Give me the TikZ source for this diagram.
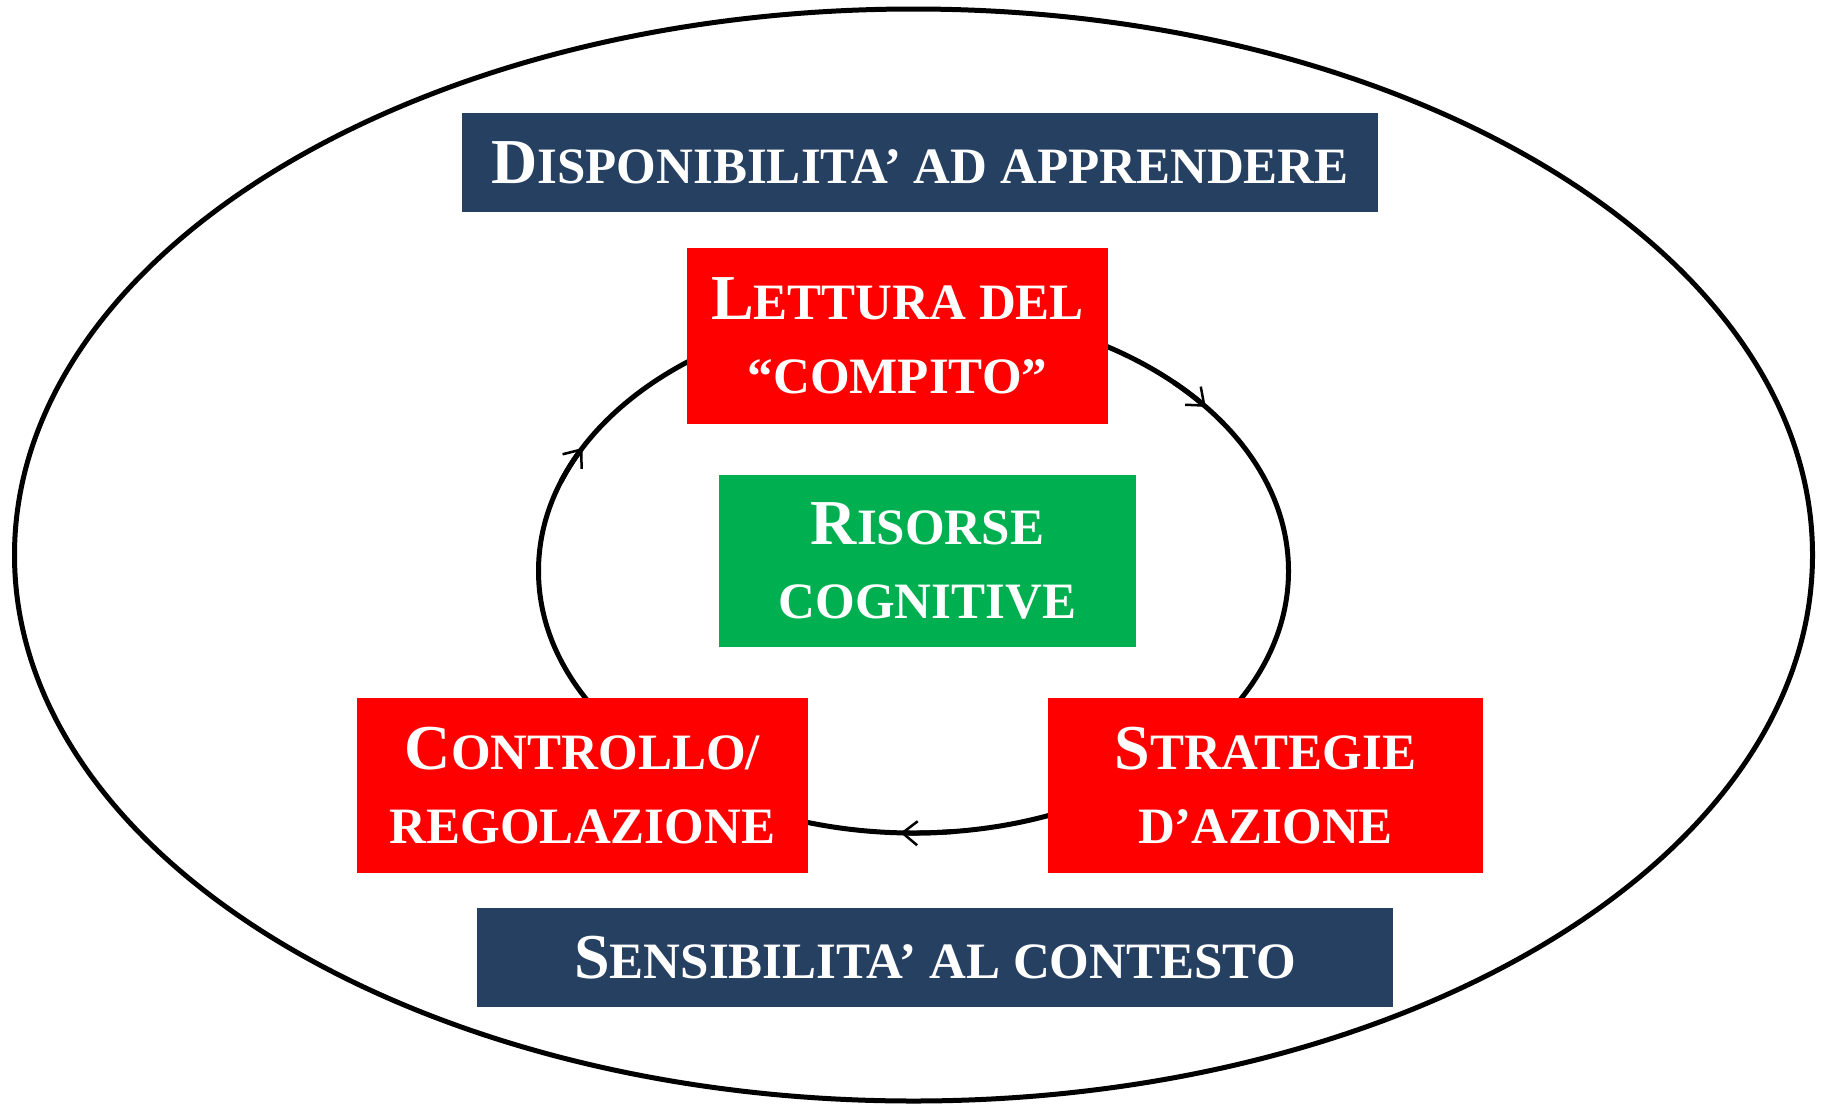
\documentclass[tikz,border=0pt]{standalone}
\usepackage{fontspec}
\setmainfont{Liberation Serif}
\usetikzlibrary{arrows.meta}
\definecolor{navy}{RGB}{38,64,97}
\definecolor{boxred}{RGB}{255,0,0}
\definecolor{boxgreen}{RGB}{0,176,80}
\newcommand\capA[1]{{\fontsize{64}{74}\selectfont #1}}
\begin{document}
\begin{tikzpicture}[x=1pt,y=-1pt,
  boxbase/.style={inner sep=0pt, text=white, align=center,
    font=\bfseries\fontsize{51}{74}\selectfont},
  navybox/.style={boxbase, fill=navy, minimum width=916pt, minimum height=99pt},
  redbox/.style={boxbase, fill=boxred},
  greenbox/.style={boxbase, fill=boxgreen},
  ring/.style={draw=black, line width=5pt},
  cyc/.style={draw=black, line width=5pt},
  cyctip/.style={cyc, -{Straight Barb[length=15pt,width=24pt,line width=2.5pt]}}]
\useasboundingbox (0,0) rectangle (1825,1104);
\fill[white] (0,0) rectangle (1825,1104);
\coordinate (oc) at (913.5,555);
\coordinate (ic) at (913.5,571);
\draw[ring] (oc) ellipse [x radius=899, y radius=546];
\draw[cyc] (ic) ellipse [x radius=375, y radius=262];
\draw[cyctip] (ic) ++(-46:375 and 262) arc[start angle=-46, end angle=-38.8, x radius=375, y radius=262];
\draw[cyctip] (ic) ++(-160:375 and 262) arc[start angle=-160, end angle=-152, x radius=375, y radius=262];
\draw[cyctip] (ic) ++(84:375 and 262) arc[start angle=84, end angle=92, x radius=375, y radius=262];

\node[navybox] (disp) at (920,162.5) {\capA{D}ISPONIBILITA’ AD APPRENDERE};
\node[redbox, minimum width=421pt, minimum height=176pt] (lett) at (897.5,336) {\capA{L}ETTURA DEL\\“COMPITO”};
\node[greenbox, minimum width=417pt, minimum height=172pt] (ris) at (927.5,561) {\capA{R}ISORSE\\COGNITIVE};
\node[redbox, minimum width=451pt, minimum height=175pt] (contr) at (582.5,785.5) {\capA{C}ONTROLLO/\\REGOLAZIONE};
\node[redbox, minimum width=435pt, minimum height=175pt] (strat) at (1265.5,785.5) {\capA{S}TRATEGIE\\D’AZIONE};
\node[navybox] (sens) at (935,957.5) {\capA{S}ENSIBILITA’ AL CONTESTO};
\end{tikzpicture}
\end{document}
